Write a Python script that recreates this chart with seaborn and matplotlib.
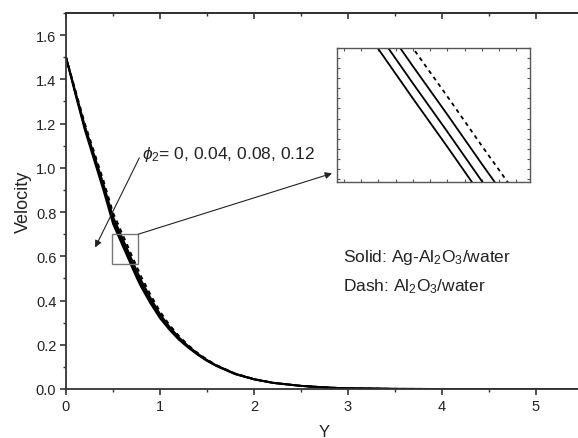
import numpy as np
import pandas as pd
import matplotlib
matplotlib.use("Agg")
import matplotlib.pyplot as plt
import seaborn as sns
from matplotlib.patches import Rectangle
from matplotlib.ticker import MultipleLocator, NullFormatter, FormatStrFormatter

# ---------------- data ----------------
y_pos = [0, 0.1, 0.2, 0.3, 0.4, 0.5, 0.55, 0.6, 0.65, 0.7, 0.75, 0.8, 0.9, 1.0,
         1.1, 1.2, 1.3, 1.4, 1.5, 1.6, 1.8, 2.0, 2.2, 2.5, 2.8, 3.0, 3.5, 4.0, 5.0, 5.5]
# Dash: Al2O3/water
vel_dash = [1.5, 1.35, 1.200, 1.070, 0.940, 0.797, 0.749, 0.700, 0.652, 0.603, 0.555, 0.508,
            0.425, 0.350, 0.290, 0.240, 0.198, 0.163, 0.133, 0.108, 0.070, 0.045, 0.028,
            0.014, 0.006, 0.003, 0.0005, 0.0, 0.0, 0.0]
# Solid: Ag-Al2O3/water
vel_004 = [1.5, 1.344, 1.190, 1.057, 0.924, 0.779, 0.731, 0.682, 0.634, 0.585, 0.537, 0.491,
           0.411, 0.339, 0.282, 0.234, 0.194, 0.160, 0.131, 0.1065, 0.069, 0.0445, 0.028,
           0.014, 0.006, 0.003, 0.0005, 0.0, 0.0, 0.0]
vel_008 = [1.5, 1.338, 1.181, 1.045, 0.909, 0.762, 0.714, 0.665, 0.617, 0.568, 0.520, 0.475,
           0.398, 0.329, 0.274, 0.228, 0.190, 0.157, 0.129, 0.105, 0.068, 0.044, 0.028,
           0.014, 0.006, 0.003, 0.0005, 0.0, 0.0, 0.0]
vel_012 = [1.5, 1.333, 1.172, 1.034, 0.896, 0.747, 0.699, 0.650, 0.602, 0.553, 0.505, 0.461,
           0.386, 0.320, 0.268, 0.223, 0.187, 0.155, 0.127, 0.104, 0.067, 0.0435, 0.028,
           0.014, 0.006, 0.003, 0.0005, 0.0, 0.0, 0.0]

series_names = ["Al2O3/water", "phi2=0.04", "phi2=0.08", "phi2=0.12"]
series_vals = [vel_dash, vel_004, vel_008, vel_012]
series_dash = [True, False, False, False]

annot_text = r"$\phi_2$= 0, 0.04, 0.08, 0.12"
legend_solid = r"Solid: Ag-Al$_2$O$_3$/water"
legend_dash = r"Dash: Al$_2$O$_3$/water"

# ---------------- style ----------------
sns.set_theme(style="ticks")
plt.rcParams["font.family"] = ["Liberation Sans", "DejaVu Sans"]
plt.rcParams["mathtext.fontset"] = "custom"
plt.rcParams["mathtext.rm"] = "Liberation Sans"
plt.rcParams["mathtext.it"] = "Liberation Sans:italic"
plt.rcParams["mathtext.bf"] = "Liberation Sans:bold"

fig = plt.figure(figsize=(5.78, 4.39), dpi=100)
ax = fig.add_axes([66 / 578, 49 / 439, 517 / 578, 376 / 439])

frames = []
for name, vals in zip(series_names, series_vals):
    frames.append(pd.DataFrame({"Y": y_pos, "Velocity": vals, "series": name}))
df = pd.concat(frames, ignore_index=True)

def draw(target, lw):
    for name, dashed in zip(series_names, series_dash):
        sub = df[df["series"] == name]
        sns.lineplot(data=sub, x="Y", y="Velocity", ax=target, color="black",
                     lw=lw, linestyle=(0, (2.2, 2.2)) if dashed else "-",
                     legend=False, sort=False)

draw(ax, 1.4)

ax.set_xlim(0, 5.5)
ax.set_ylim(0, 1.7)
ax.xaxis.set_major_locator(MultipleLocator(1))
ax.xaxis.set_minor_locator(MultipleLocator(0.5))
ax.yaxis.set_major_locator(MultipleLocator(0.2))
ax.yaxis.set_minor_locator(MultipleLocator(0.1))
ax.yaxis.set_major_formatter(FormatStrFormatter("%.1f"))
ax.tick_params(axis="both", which="major", direction="out", length=4, width=1.2,
               labelsize=10.5, pad=3, color="#333333", labelcolor="#222222")
ax.tick_params(axis="both", which="minor", direction="out", length=2.5, width=1.0,
               color="#333333")
for s in ax.spines.values():
    s.set_linewidth(1.3)
    s.set_color("#333333")
ax.set_xlabel("Y", fontsize=12, labelpad=8, color="#222222")
ax.set_ylabel("Velocity", fontsize=13, labelpad=3, color="#222222")

# inward ticks along the top spine
top = ax.secondary_xaxis("top")
top.xaxis.set_major_locator(MultipleLocator(1))
top.xaxis.set_minor_locator(MultipleLocator(0.5))
top.xaxis.set_major_formatter(NullFormatter())
top.tick_params(which="major", direction="in", length=4, width=1.2, color="#333333")
top.tick_params(which="minor", direction="in", length=2.5, width=1.0, color="#333333")
top.spines["top"].set_linewidth(1.3)
top.spines["top"].set_color("#333333")

# zoom box
box_x = (0.49, 0.77)
box_v = (0.567, 0.70)
ax.add_patch(Rectangle((box_x[0], box_v[0]), box_x[1] - box_x[0], box_v[1] - box_v[0],
                       fill=False, edgecolor="#777777", lw=1.0, zorder=3))

# arrows
ax.annotate("", xy=(0.31, 0.64), xytext=(0.78, 1.045),
            arrowprops=dict(arrowstyle="-|>", color="#222222", lw=0.8,
                            mutation_scale=10, shrinkA=0, shrinkB=0))
ax.annotate("", xy=(2.83, 0.975), xytext=(0.77, 0.70),
            arrowprops=dict(arrowstyle="-|>", color="#222222", lw=0.8,
                            mutation_scale=10, shrinkA=0, shrinkB=0))

ax.text(0.81, 1.065, annot_text, fontsize=12.5, ha="left", va="center", color="#222222")
ax.text(2.95, 0.60, legend_solid, fontsize=12.5, ha="left", va="center", color="#222222")
ax.text(2.95, 0.467, legend_dash, fontsize=12.5, ha="left", va="center", color="#222222")

# inset
axin = fig.add_axes([337 / 578, (439 - 183) / 439, 193 / 578, 134 / 439])
draw(axin, 1.3)
axin.set_xlim(*box_x)
axin.set_ylim(*box_v)
axin.set_xlabel("")
axin.set_ylabel("")
axin.xaxis.set_major_locator(MultipleLocator(0.025))
axin.yaxis.set_major_locator(MultipleLocator(0.01))
axin.xaxis.set_major_formatter(NullFormatter())
axin.yaxis.set_major_formatter(NullFormatter())
axin.tick_params(axis="both", which="major", direction="in", length=2.5, width=0.8,
                 top=True, right=True, color="#555555")
for s in axin.spines.values():
    s.set_linewidth(1.0)
    s.set_color("#555555")

fig.savefig("out.png", dpi=100)
